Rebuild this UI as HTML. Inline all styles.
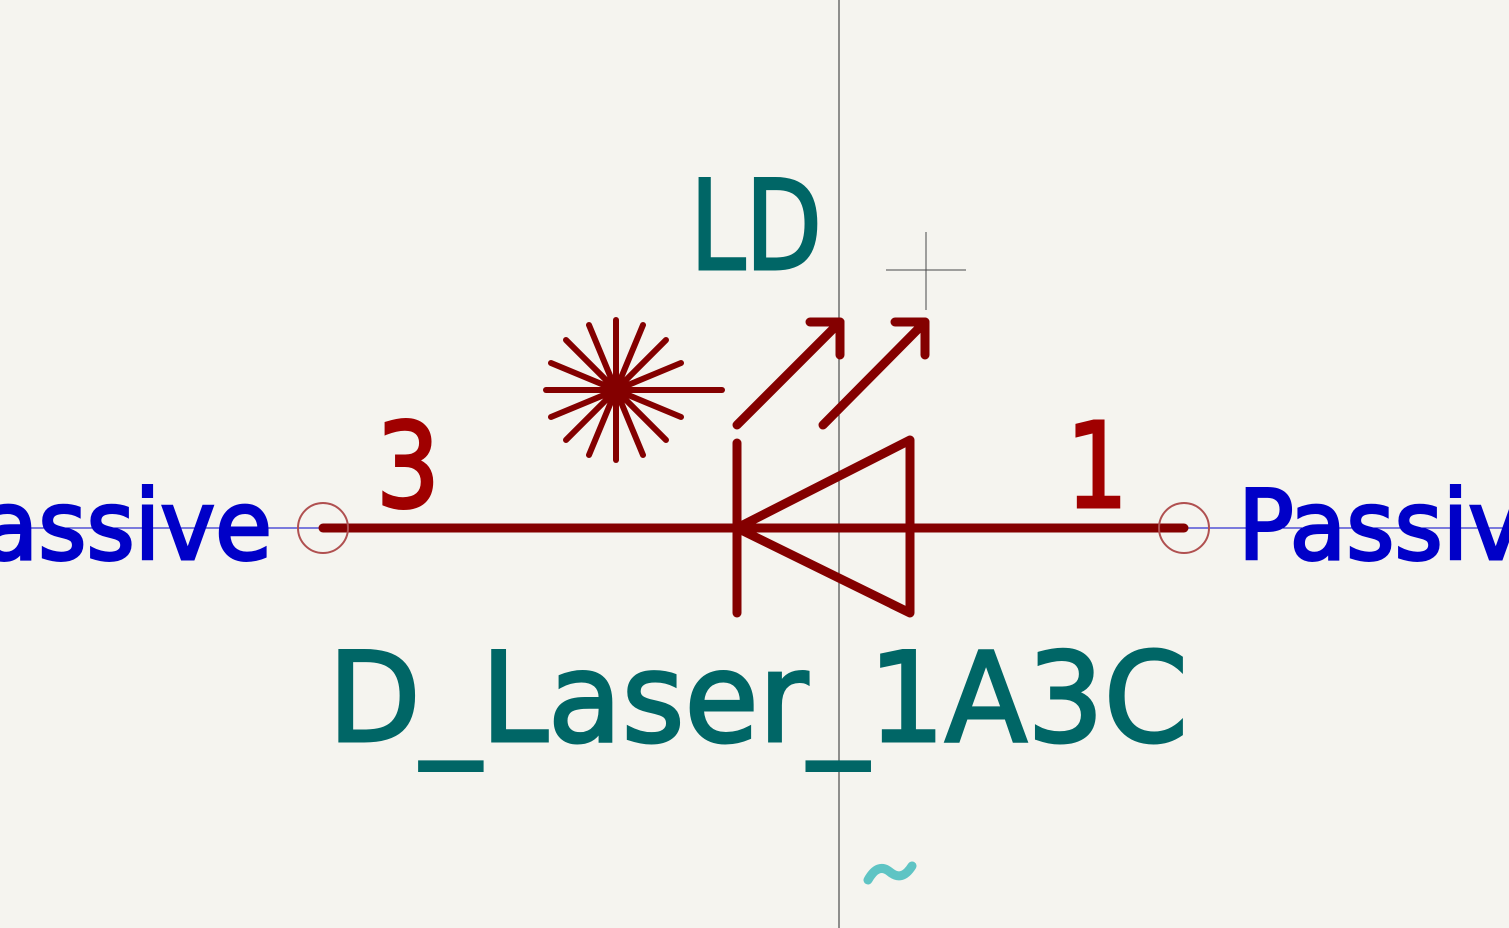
<!DOCTYPE html>
<html><head><meta charset="utf-8"><style>
html,body{margin:0;padding:0;background:#f5f4ef;}
svg{display:block;}
text{font-family:"DejaVu Sans","Liberation Sans",sans-serif;}
</style></head><body>
<svg width="1509" height="928" viewBox="0 0 1509 928">
<rect width="1509" height="928" fill="#f5f4ef"/>
<line x1="839" y1="0" x2="839" y2="928" stroke="#4a4a4a" stroke-width="1.2"/>
<line x1="0" y1="528" x2="1509" y2="528" stroke="#0000c8" stroke-width="1"/>
<g stroke="#484848" stroke-width="1">
<line x1="886" y1="270" x2="966" y2="270"/><line x1="926" y1="232" x2="926" y2="310"/></g>
<g stroke="#840000" stroke-width="9" stroke-linecap="round" stroke-linejoin="round" fill="none">
<line x1="323" y1="528" x2="1184" y2="528"/>
<line x1="737" y1="443" x2="737" y2="613"/>
<polygon points="737,528 910,440 910,613"/>
<g>
<line x1="737" y1="425" x2="840" y2="322"/><polyline points="810,322 840,322 840,355"/>
<line x1="823" y1="425" x2="925" y2="322"/><polyline points="895,322 925,322 925,355"/>
</g>
<g stroke-width="6">
<line x1="546" y1="390" x2="722" y2="390"/><line x1="616" y1="320" x2="616" y2="460"/>
<line x1="566" y1="340" x2="666" y2="440"/><line x1="566" y1="440" x2="666" y2="340"/>
<line x1="551" y1="363" x2="681" y2="417"/><line x1="551" y1="417" x2="681" y2="363"/>
<line x1="589" y1="325" x2="643" y2="455"/><line x1="643" y1="325" x2="589" y2="455"/>
<circle cx="616" cy="390" r="12" fill="#840000"/>
</g>
</g>
<circle cx="323" cy="528" r="25" fill="none" stroke="#b05050" stroke-width="2"/>
<circle cx="1184" cy="528" r="25" fill="none" stroke="#b05050" stroke-width="2"/>
<text x="690" y="269" font-size="124" fill="#006666" stroke="#006666" stroke-width="3" textLength="132" lengthAdjust="spacingAndGlyphs">LD</text>
<text x="328" y="741" font-size="124" fill="#006666" stroke="#006666" stroke-width="3" textLength="860" lengthAdjust="spacingAndGlyphs">D_Laser_1A3C</text>
<text x="376" y="507" font-size="118" fill="#a00000" stroke="#a00000" stroke-width="3" textLength="64" lengthAdjust="spacingAndGlyphs">3</text>
<text x="1066" y="507" font-size="118" fill="#a00000" stroke="#a00000" stroke-width="3" textLength="62" lengthAdjust="spacingAndGlyphs">1</text>
<text x="-70" y="559" font-size="96" fill="#0000c8" stroke="#0000c8" stroke-width="3" textLength="342" lengthAdjust="spacingAndGlyphs">Passive</text>
<text x="1238" y="559" font-size="96" fill="#0000c8" stroke="#0000c8" stroke-width="3" textLength="342" lengthAdjust="spacingAndGlyphs">Passive</text>
<path d="M868 880 Q878 862 890 872 Q902 882 912 866" fill="none" stroke="#5ec4c4" stroke-width="9" stroke-linecap="round"/>
</svg>
</body></html>
